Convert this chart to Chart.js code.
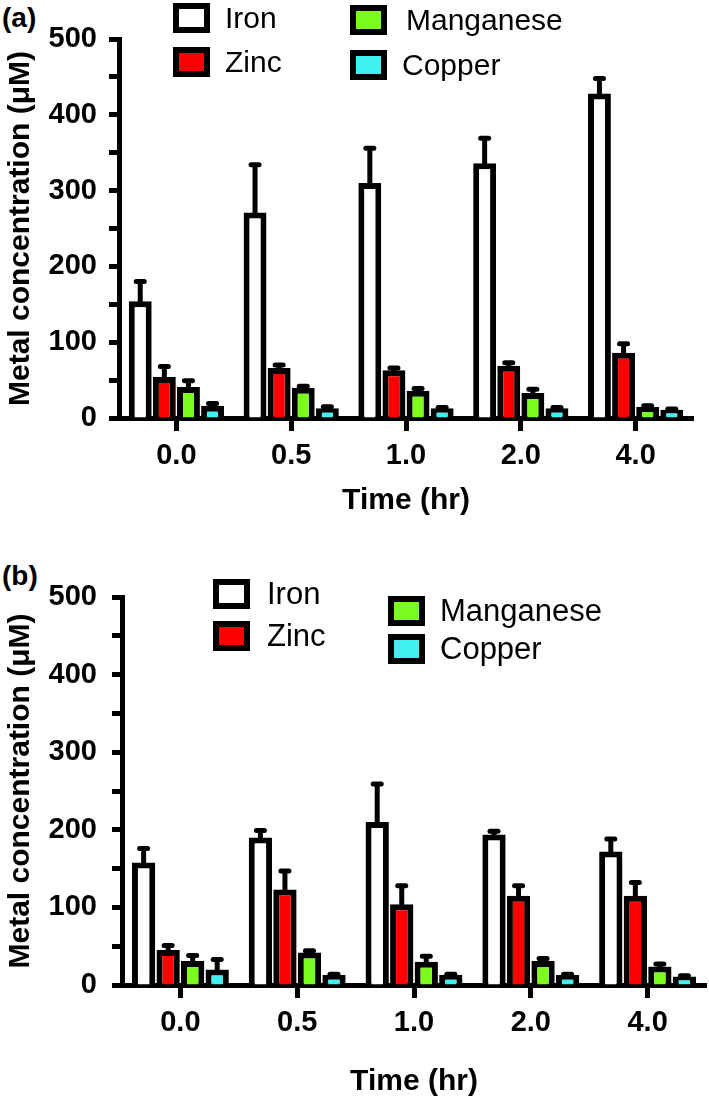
<!DOCTYPE html>
<html>
<head>
<meta charset="utf-8">
<script src="https://cdn.jsdelivr.net/npm/chart.js@4.4.1/dist/chart.umd.min.js"></script>
<style>
  body { margin: 0; background: #fff; }
  #page { position: relative; width: 709px; height: 1101px; overflow: hidden; font-family: 'Liberation Sans', Arial, sans-serif; color: #000; }
  canvas { position: absolute; left: 0; }
  .tag { position: absolute; left: 2px; font-weight: bold; font-size: 28px; line-height: 28px; }
  .leg { position: absolute; display: flex; align-items: center; white-space: nowrap; }
  .leg .box { box-sizing: border-box; width: 37px; height: 30px; border: 6px solid #000; }
</style>
</head>
<body>
<div id="page">
  <div class="tag" style="top:4px">(a)</div>
  <div class="tag" style="top:562px">(b)</div>
  <canvas id="chartA" width="709" height="540" style="top:0"></canvas>
  <canvas id="chartB" width="709" height="561" style="top:540px"></canvas>
</div>
<script>
// categories and series
const times = ['0.0', '0.5', '1.0', '2.0', '4.0'];
const metals = ['Iron', 'Zinc', 'Manganese', 'Copper'];
const metalColors = ['#ffffff', '#ff0000', '#7cfc1c', '#40f0f0'];
const yMin = 0;
const yMax = 500;
const yStep = 50;

// panel (a)
const ironA = [154, 271, 310, 336, 428];
const zincA = [54, 66, 63, 69, 86];
const manganeseA = [41, 40, 36, 33, 15];
const copperA = [16, 13, 13, 13, 11];
const ironErrA = [26, 63, 46, 33, 20];
const zincErrA = [14, 4, 3, 4, 12];
const manganeseErrA = [8, 2, 3, 5, 1];
const copperErrA = [3, 2, 1, 1, 1];

// panel (b)
const ironB = [158, 190, 210, 194, 172];
const zincB = [45, 123, 104, 115, 115];
const manganeseB = [31, 42, 30, 31, 24];
const copperB = [20, 13, 13, 13, 11];
const ironErrB = [18, 9, 49, 4, 16];
const zincErrB = [6, 24, 24, 13, 17];
const manganeseErrB = [7, 2, 7, 3, 3];
const copperErrB = [13, 1, 1, 1, 1];

const fontFamily = "'Liberation Sans', Arial, sans-serif";

// error bars (upper only, with cap)
const errorBars = {
    id: 'errorBars',
    afterDatasetsDraw(chart) {
        const ctx = chart.ctx;
        const yScale = chart.scales.y;
        ctx.save();
        ctx.strokeStyle = '#000';
        chart.data.datasets.forEach((ds, i) => {
            const meta = chart.getDatasetMeta(i);
            meta.data.forEach((bar, j) => {
                const err = ds.errors[j];
                if (!err) return;
                const top = yScale.getPixelForValue(ds.data[j] + err);
                ctx.lineWidth = 5;
                ctx.lineCap = 'butt';
                ctx.beginPath();
                ctx.moveTo(bar.x, bar.y + 2);
                ctx.lineTo(bar.x, top);
                ctx.stroke();
                ctx.lineWidth = 5;
                ctx.lineCap = 'round';
                ctx.beginPath();
                ctx.moveTo(bar.x - 4, top);
                ctx.lineTo(bar.x + 4, top);
                ctx.stroke();
            });
        });
        ctx.restore();
    }
};

function makeLegend(pos, fontSize) {
    const page = document.getElementById('page');
    metals.forEach((name, i) => {
        const item = document.createElement('div');
        item.className = 'leg';
        item.style.left = pos[i][0] + 'px';
        item.style.top = pos[i][1] + 'px';
        item.style.fontSize = fontSize + 'px';
        const box = document.createElement('span');
        box.className = 'box';
        box.style.background = metalColors[i];
        const label = document.createElement('span');
        label.textContent = name;
        label.style.marginLeft = pos[i][2] + 'px';
        item.appendChild(box);
        item.appendChild(label);
        page.appendChild(item);
    });
}

function makeChart(canvasId, series, errors, geo) {
    const ctx = document.getElementById(canvasId).getContext('2d');
    return new Chart(ctx, {
        type: 'bar',
        data: {
            labels: times,
            datasets: metals.map((name, i) => ({
                label: name,
                data: series[i],
                errors: errors[i],
                backgroundColor: metalColors[i],
                borderColor: '#000',
                borderWidth: 6,
                borderSkipped: 'start',
                categoryPercentage: 0.84,
                barPercentage: 0.95
            }))
        },
        options: {
            responsive: false,
            animation: false,
            events: [],
            layout: { padding: { left: 0, top: geo.top, right: geo.right, bottom: geo.bottom } },
            plugins: {
                legend: { display: false },
                tooltip: { enabled: false }
            },
            scales: {
                x: {
                    z: 1,
                    offset: true,
                    grid: { drawOnChartArea: false, offset: false, tickLength: 13, tickWidth: 5, tickColor: '#000' },
                    border: { display: true, width: 5, color: '#000' },
                    ticks: { color: '#000', padding: 8, font: { family: fontFamily, size: 29, weight: 'bold' } },
                    title: {
                        display: true,
                        text: 'Time (hr)',
                        color: '#000',
                        padding: 0,
                        font: { family: fontFamily, size: 30, weight: 'bold' }
                    },
                    afterFit: (scale) => { scale.height = geo.xHeight; }
                },
                y: {
                    z: 1,
                    min: yMin,
                    max: yMax,
                    grid: { drawOnChartArea: false, tickLength: 10, tickWidth: 5, tickColor: '#000' },
                    border: { display: true, width: 5, color: '#000' },
                    ticks: {
                        stepSize: yStep,
                        color: '#000',
                        padding: geo.yPad,
                        font: { family: fontFamily, size: 29, weight: 'bold' },
                        callback: (v) => (v % 100 === 0 ? v : '')
                    },
                    title: {
                        display: true,
                        text: 'Metal concentration (μM)',
                        color: '#000',
                        padding: { top: 3, bottom: 0 },
                        font: { family: fontFamily, size: 30, weight: 'bold' }
                    },
                    afterFit: (scale) => { scale.width = geo.yWidth; }
                }
            }
        },
        plugins: [errorBars]
    });
}

makeChart('chartA',
    [ironA, zincA, manganeseA, copperA],
    [ironErrA, zincErrA, manganeseErrA, copperErrA],
    { top: 39, right: 16, bottom: 21, xHeight: 101, yWidth: 119, yPad: 12 });

makeChart('chartB',
    [ironB, zincB, manganeseB, copperB],
    [ironErrB, zincErrB, manganeseErrB, copperErrB],
    { top: 57, right: 3, bottom: 1, xHeight: 115, yWidth: 122, yPad: 15 });

makeLegend([[173, 1, 15], [173, 45, 15], [350, 3, 19], [350, 48, 15]], 30);
makeLegend([[213, 576, 17], [213, 618, 17], [388, 593, 15], [388, 631, 15]], 31);
</script>
</body>
</html>
